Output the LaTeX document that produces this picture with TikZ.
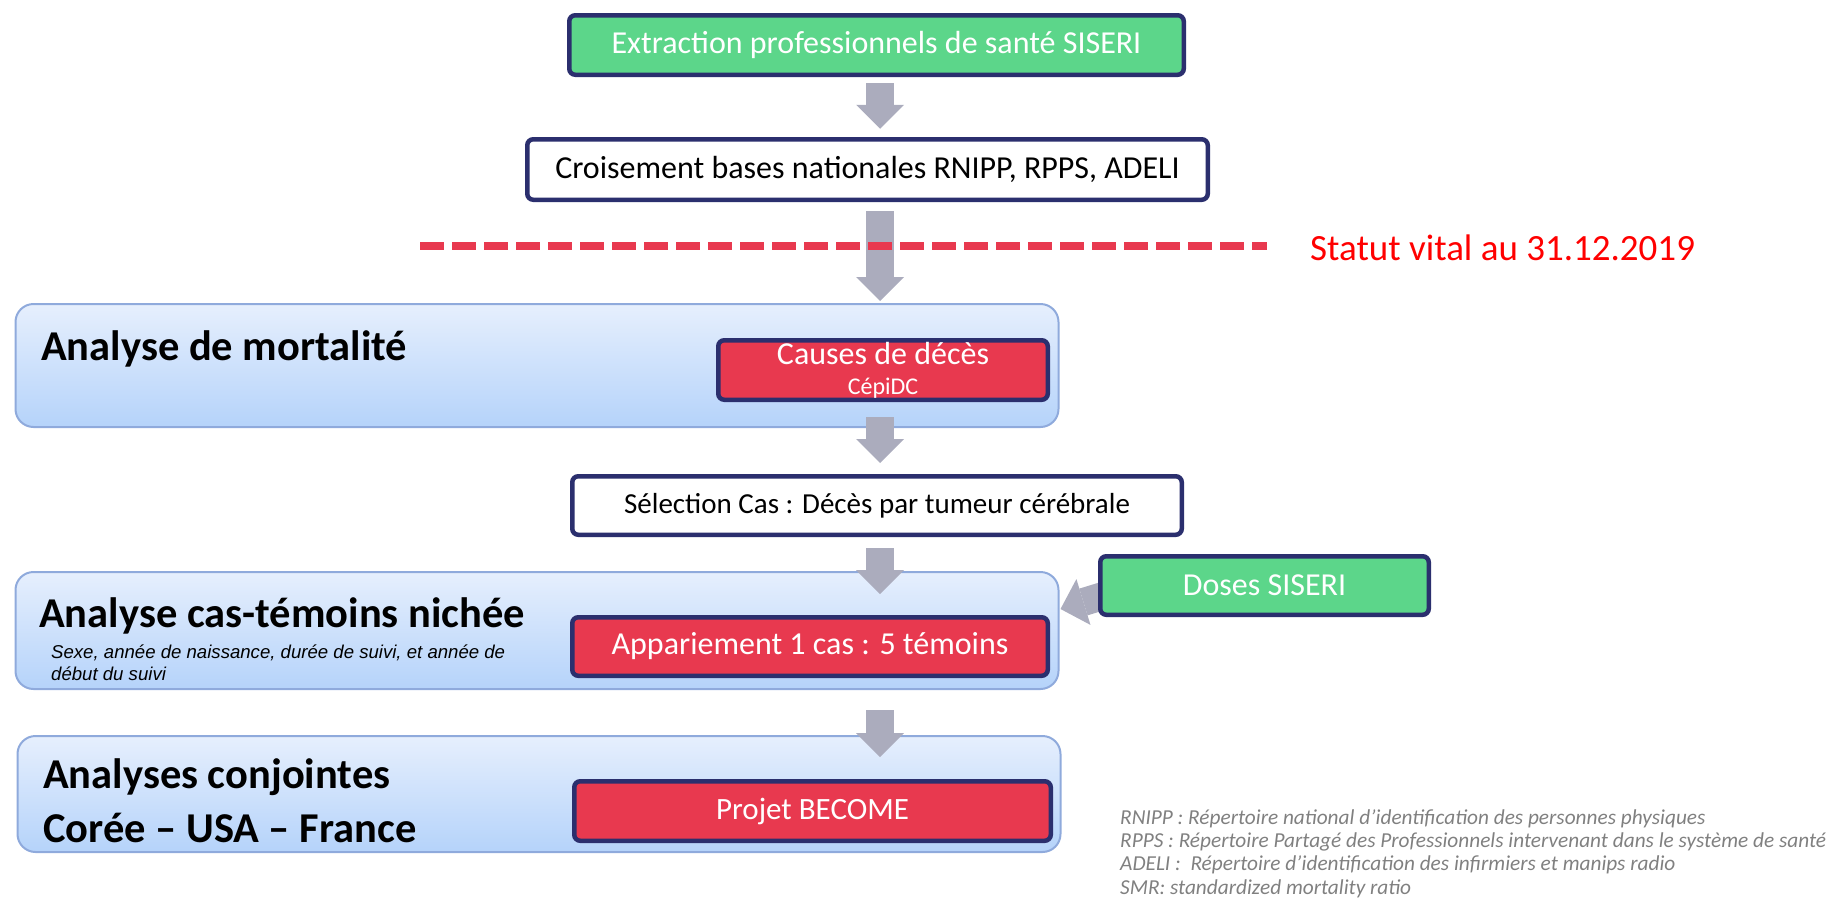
\documentclass[tikz,border=0pt]{standalone}
\usepackage{fontspec}
\setmainfont{Carlito}
\newfontfamily\arialfont{Liberation Sans}
\usetikzlibrary{arrows.meta,calc}
\definecolor{NavyEdge}{RGB}{43,47,110}
\definecolor{BoxGreen}{RGB}{92,214,138}
\definecolor{BoxRed}{RGB}{232,57,79}
\definecolor{ArrowGrey}{RGB}{171,172,189}
\definecolor{PanelTop}{RGB}{230,239,253}
\definecolor{PanelBottom}{RGB}{181,211,250}
\definecolor{PanelEdge}{RGB}{143,170,220}
\definecolor{NoteGrey}{RGB}{128,128,128}
\pgfdeclarelayer{panels}
\pgfdeclarelayer{arrows}
\pgfsetlayers{panels,arrows,main}

\begin{document}
\begin{tikzpicture}[x=1pt,y=-1pt,
  box/.style={draw=NavyEdge,line width=4.5pt,rounded corners=6pt,inner sep=0pt,align=center,font=\fontsize{32}{36}\selectfont},
  greenbox/.style={box,fill=BoxGreen,text=white},
  redbox/.style={box,fill=BoxRed,text=white},
  whitebox/.style={box,fill=white},
  panel/.style={draw=PanelEdge,line width=2pt,rounded corners=18pt,top color=PanelTop,bottom color=PanelBottom,minimum width=1043pt,inner sep=0pt},
  title/.style={anchor=base west,inner sep=0pt,font=\fontsize{42.5}{54}\selectfont\bfseries},
  flow/.style={ArrowGrey,line width=28pt,-{Triangle[width=48pt,length=24pt,line width=0pt]}}]

\useasboundingbox (0,0) rectangle (1831,903);
\coordinate (axis) at (880,0);

\begin{pgfonlayer}{panels}
\node[panel,minimum height=123pt] (Mort) at (537,365.5) {};
\node[panel,minimum height=117pt] (Cas) at (537,630.5) {};
\node[panel,minimum height=116pt] (Conj) at (539,794) {};
\end{pgfonlayer}

\node[greenbox,minimum width=614.5pt,minimum height=59.5pt] (Ext) at (876.5,45) {Extraction professionnels de santé SISERI};
\node[whitebox,minimum width=680.5pt,minimum height=60.5pt] (Crois) at (867.5,169.5) {Croisement bases nationales RNIPP, RPPS, ADELI};

\node[title] (T1) at (41,360) {Analyse de mortalité};
\node[redbox,minimum width=329.5pt,minimum height=59.5pt] (Causes) at (883,370) {Causes de décès\\[-6pt]{\fontsize{24}{28}\selectfont CépiDC}};

\node[whitebox,minimum width=609.5pt,minimum height=58.5pt,font=\fontsize{29}{34}\selectfont] (Sel) at (877,505.5) {Sélection Cas : Décès par tumeur cérébrale};

\node[title] (T2) at (39,627) {Analyse cas-témoins nichée};
\node[anchor=base west,align=left,inner sep=0pt,font=\arialfont\itshape\fontsize{18.6}{22}\selectfont] (Crit) at (51,680) {Sexe, année de naissance, durée de suivi, et année de\\début du suivi};
\node[redbox,minimum width=475.5pt,minimum height=58.5pt] (App) at (810,646.5) {Appariement 1 cas : 5 témoins};
\node[greenbox,minimum width=328.5pt,minimum height=58.5pt] (Doses) at (1264.5,585.5) {Doses SISERI};

\node[title] (T3a) at (43,788) {Analyses conjointes};
\node[title] (T3b) at (43,842) {Corée – USA – France};
\node[redbox,minimum width=476.5pt,minimum height=59.5pt,font=\fontsize{31}{36}\selectfont] (Become) at (812.5,811) {Projet BECOME};

\begin{pgfonlayer}{arrows}
\foreach \a/\b/\s/\e in {Ext/Crois/6.25/8.25,Crois/Mort/9/2,Causes/Sel/15/11,Sel/App/11/21,Cas/Become/20/22}
  \draw[flow,shorten <=\s pt,shorten >=\e pt] (\a.south -| axis) -- (\b.north -| axis);
\draw[flow] ($(Doses.west)+(18,6.5)$) -- ($(Cas.east)+(1,-21.5)$);
\end{pgfonlayer}

\draw[BoxRed,line width=8pt,dash pattern=on 24pt off 8pt] (420,246) -- (1267,246);
\node[anchor=base west,inner sep=0pt,text=red,font=\fontsize{37}{44}\selectfont] (Statut) at (1310,260) {Statut vital au 31.12.2019};

\node[anchor=base west,align=left,inner sep=0pt,text=NoteGrey,font=\fontsize{21.3}{23.3}\selectfont\itshape] (Notes) at (1120,894) {RNIPP : Répertoire national d’identification des personnes physiques\\RPPS : Répertoire Partagé des Professionnels intervenant dans le système de santé\\ADELI :~ Répertoire d'identification des infirmiers et manips radio\\SMR: standardized mortality ratio};

\end{tikzpicture}
\end{document}
